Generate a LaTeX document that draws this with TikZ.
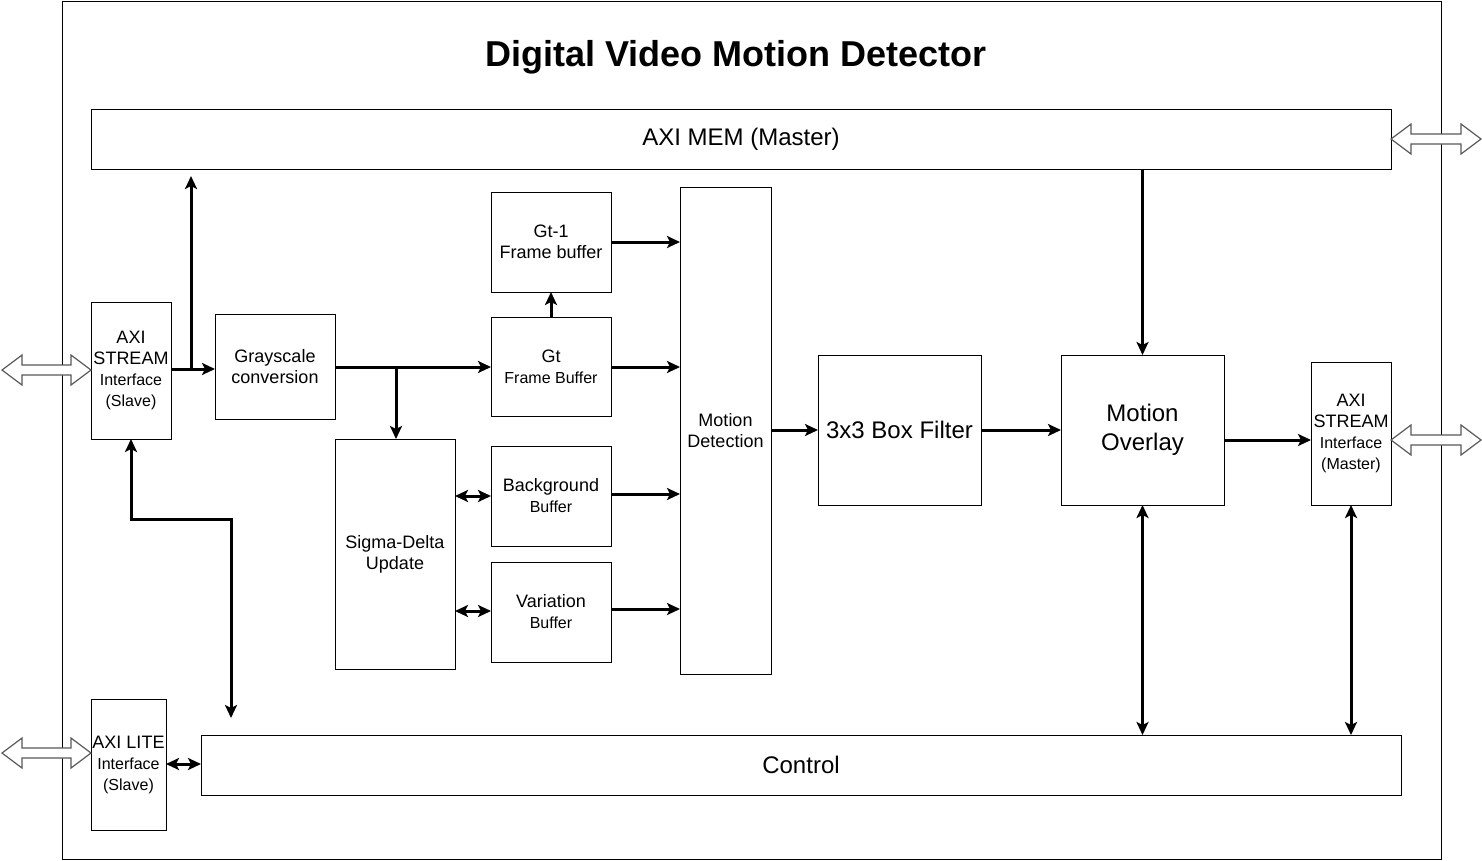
\documentclass[tikz,border=0pt]{standalone}
\usepackage{fontspec}
\setmainfont{Liberation Sans}
\usetikzlibrary{arrows.meta,calc}
\newcommand\fs[2]{\fontsize{#1}{#2}\selectfont}
\newcommand\hollowarrow[3]{%
  \draw[harrow] (#1,#3) -- (#1+20,#3-15) -- (#1+20,#3-5) -- (#2-20,#3-5) -- (#2-20,#3-15) -- (#2,#3)
     -- (#2-20,#3+15) -- (#2-20,#3+5) -- (#1+20,#3+5) -- (#1+20,#3+15) -- cycle;}
\tikzset{
  box/.style={draw=black, line width=1pt, inner sep=0pt, outer sep=0pt, align=center, font=\fs{18}{21}},
  conn/.style={line width=3pt, -{Stealth[length=13pt,width=12pt,inset=3pt]}},
  biconn/.style={line width=3pt, {Stealth[length=13pt,width=12pt,inset=3pt]}-{Stealth[length=13pt,width=12pt,inset=3pt]}},
  harrow/.style={draw=black!65, line width=1.2pt, fill=white},
}
\begin{document}
\begin{tikzpicture}[x=1pt,y=-1pt]
\useasboundingbox (0,0) rectangle (1482,860);
\fill[white] (0,0) rectangle (1482,860);
\node[draw=black, line width=1pt, minimum width=1379pt, minimum height=858pt, inner sep=0pt] (frame) at (751.5,430) {};
\node[font=\fs{36}{42}\bfseries] (title) at (736,57) {Digital Video Motion Detector};

\node[box, minimum width=1300pt, minimum height=60pt, font=\fs{24}{29}] (mem) at (741,139) {AXI MEM (Master)};
\node[box, minimum width=80pt, minimum height=137pt] (sin) at (131,370.5) {AXI\\STREAM\\{\fs{16}{19}Interface}\\{\fs{16}{19}(Slave)}};
\node[box, minimum width=120pt, minimum height=105pt] (gray) at (275,366.5) {Grayscale\\conversion};
\node[box, minimum width=120pt, minimum height=100pt] (gt1) at (551,242) {Gt-1\\Frame buffer};
\node[box, minimum width=120pt, minimum height=99pt] (gt) at (551,366.5) {Gt\\{\fs{16}{19}Frame Buffer}};
\node[box, minimum width=120pt, minimum height=100pt] (bg) at (551,496) {Background\\{\fs{16}{19}Buffer}};
\node[box, minimum width=120pt, minimum height=100pt] (var) at (551,612) {Variation\\{\fs{16}{19}Buffer}};
\node[box, minimum width=120pt, minimum height=230pt] (sd) at (395,554) {Sigma-Delta\\Update};
\node[box, minimum width=91pt, minimum height=487pt] (md) at (725.5,430.5) {Motion\\Detection};
\node[box, minimum width=163pt, minimum height=150pt, font=\fs{24}{29}] (bf) at (899.5,430) {3x3 Box Filter};
\node[box, minimum width=163pt, minimum height=150pt, font=\fs{24}{29}] (mo) at (1142.5,430) {Motion\\Overlay};
\node[box, minimum width=80pt, minimum height=143pt] (sout) at (1351,433.5) {AXI\\STREAM\\{\fs{16}{19}Interface}\\{\fs{16}{19}(Master)}};
\node[box, minimum width=75pt, minimum height=131pt] (lite) at (128.5,764.5) {AXI LITE\\{\fs{16}{19}Interface}\\{\fs{16}{19}(Slave)}};
\node[box, minimum width=1200pt, minimum height=60pt, font=\fs{24}{29}] (ctrl) at (801,765) {Control};

% hollow external arrows
\hollowarrow{2}{91}{370}
\hollowarrow{1391}{1481}{139}
\hollowarrow{1391}{1481}{440}
\hollowarrow{2}{91}{753}

% connectors
\coordinate (b1) at (191,369);
\coordinate (memin) at (191,176);
\draw[line width=3pt] (sin.east |- b1) -- (b1);
\draw[conn] (b1) -- (memin);
\draw[conn] (b1) -- (gray.west |- b1);

\coordinate (b2) at (396,367);
\draw[conn] (gray.east |- b2) -- (gt.west |- b2);
\draw[conn] (b2) -- (sd.north -| b2);

\draw[conn] (gt.north) -- (gt1.south);
\draw[conn] (gt1.east) -- (md.west |- gt1.east);
\draw[conn] (gt.east |- b2) -- (md.west |- b2);
\draw[conn] (bg.east |- 0,494) -- (md.west |- 0,494);
\draw[conn] (var.east |- 0,609) -- (md.west |- 0,609);
\draw[biconn] (sd.east |- 0,496) -- (bg.west |- 0,496);
\draw[biconn] (sd.east |- 0,611) -- (var.west |- 0,611);

\draw[conn] (md.east |- bf.west) -- (bf.west);
\draw[conn] (bf.east) -- (mo.west);
\draw[conn] (mo.east |- 0,440) -- (sout.west |- 0,440);
\draw[conn] (mem.south -| mo.north) -- (mo.north);
\draw[biconn] (mo.south) -- (ctrl.north -| mo.south);
\draw[biconn] (sout.south) -- (ctrl.north -| sout.south);

\coordinate (ctrltap) at (231,718);
\draw[biconn] (sin.south) -- (131,519) -- (231,519) -- (ctrltap);
\draw[biconn] (lite.east |- 0,764) -- (ctrl.west |- 0,764);
\end{tikzpicture}
\end{document}
